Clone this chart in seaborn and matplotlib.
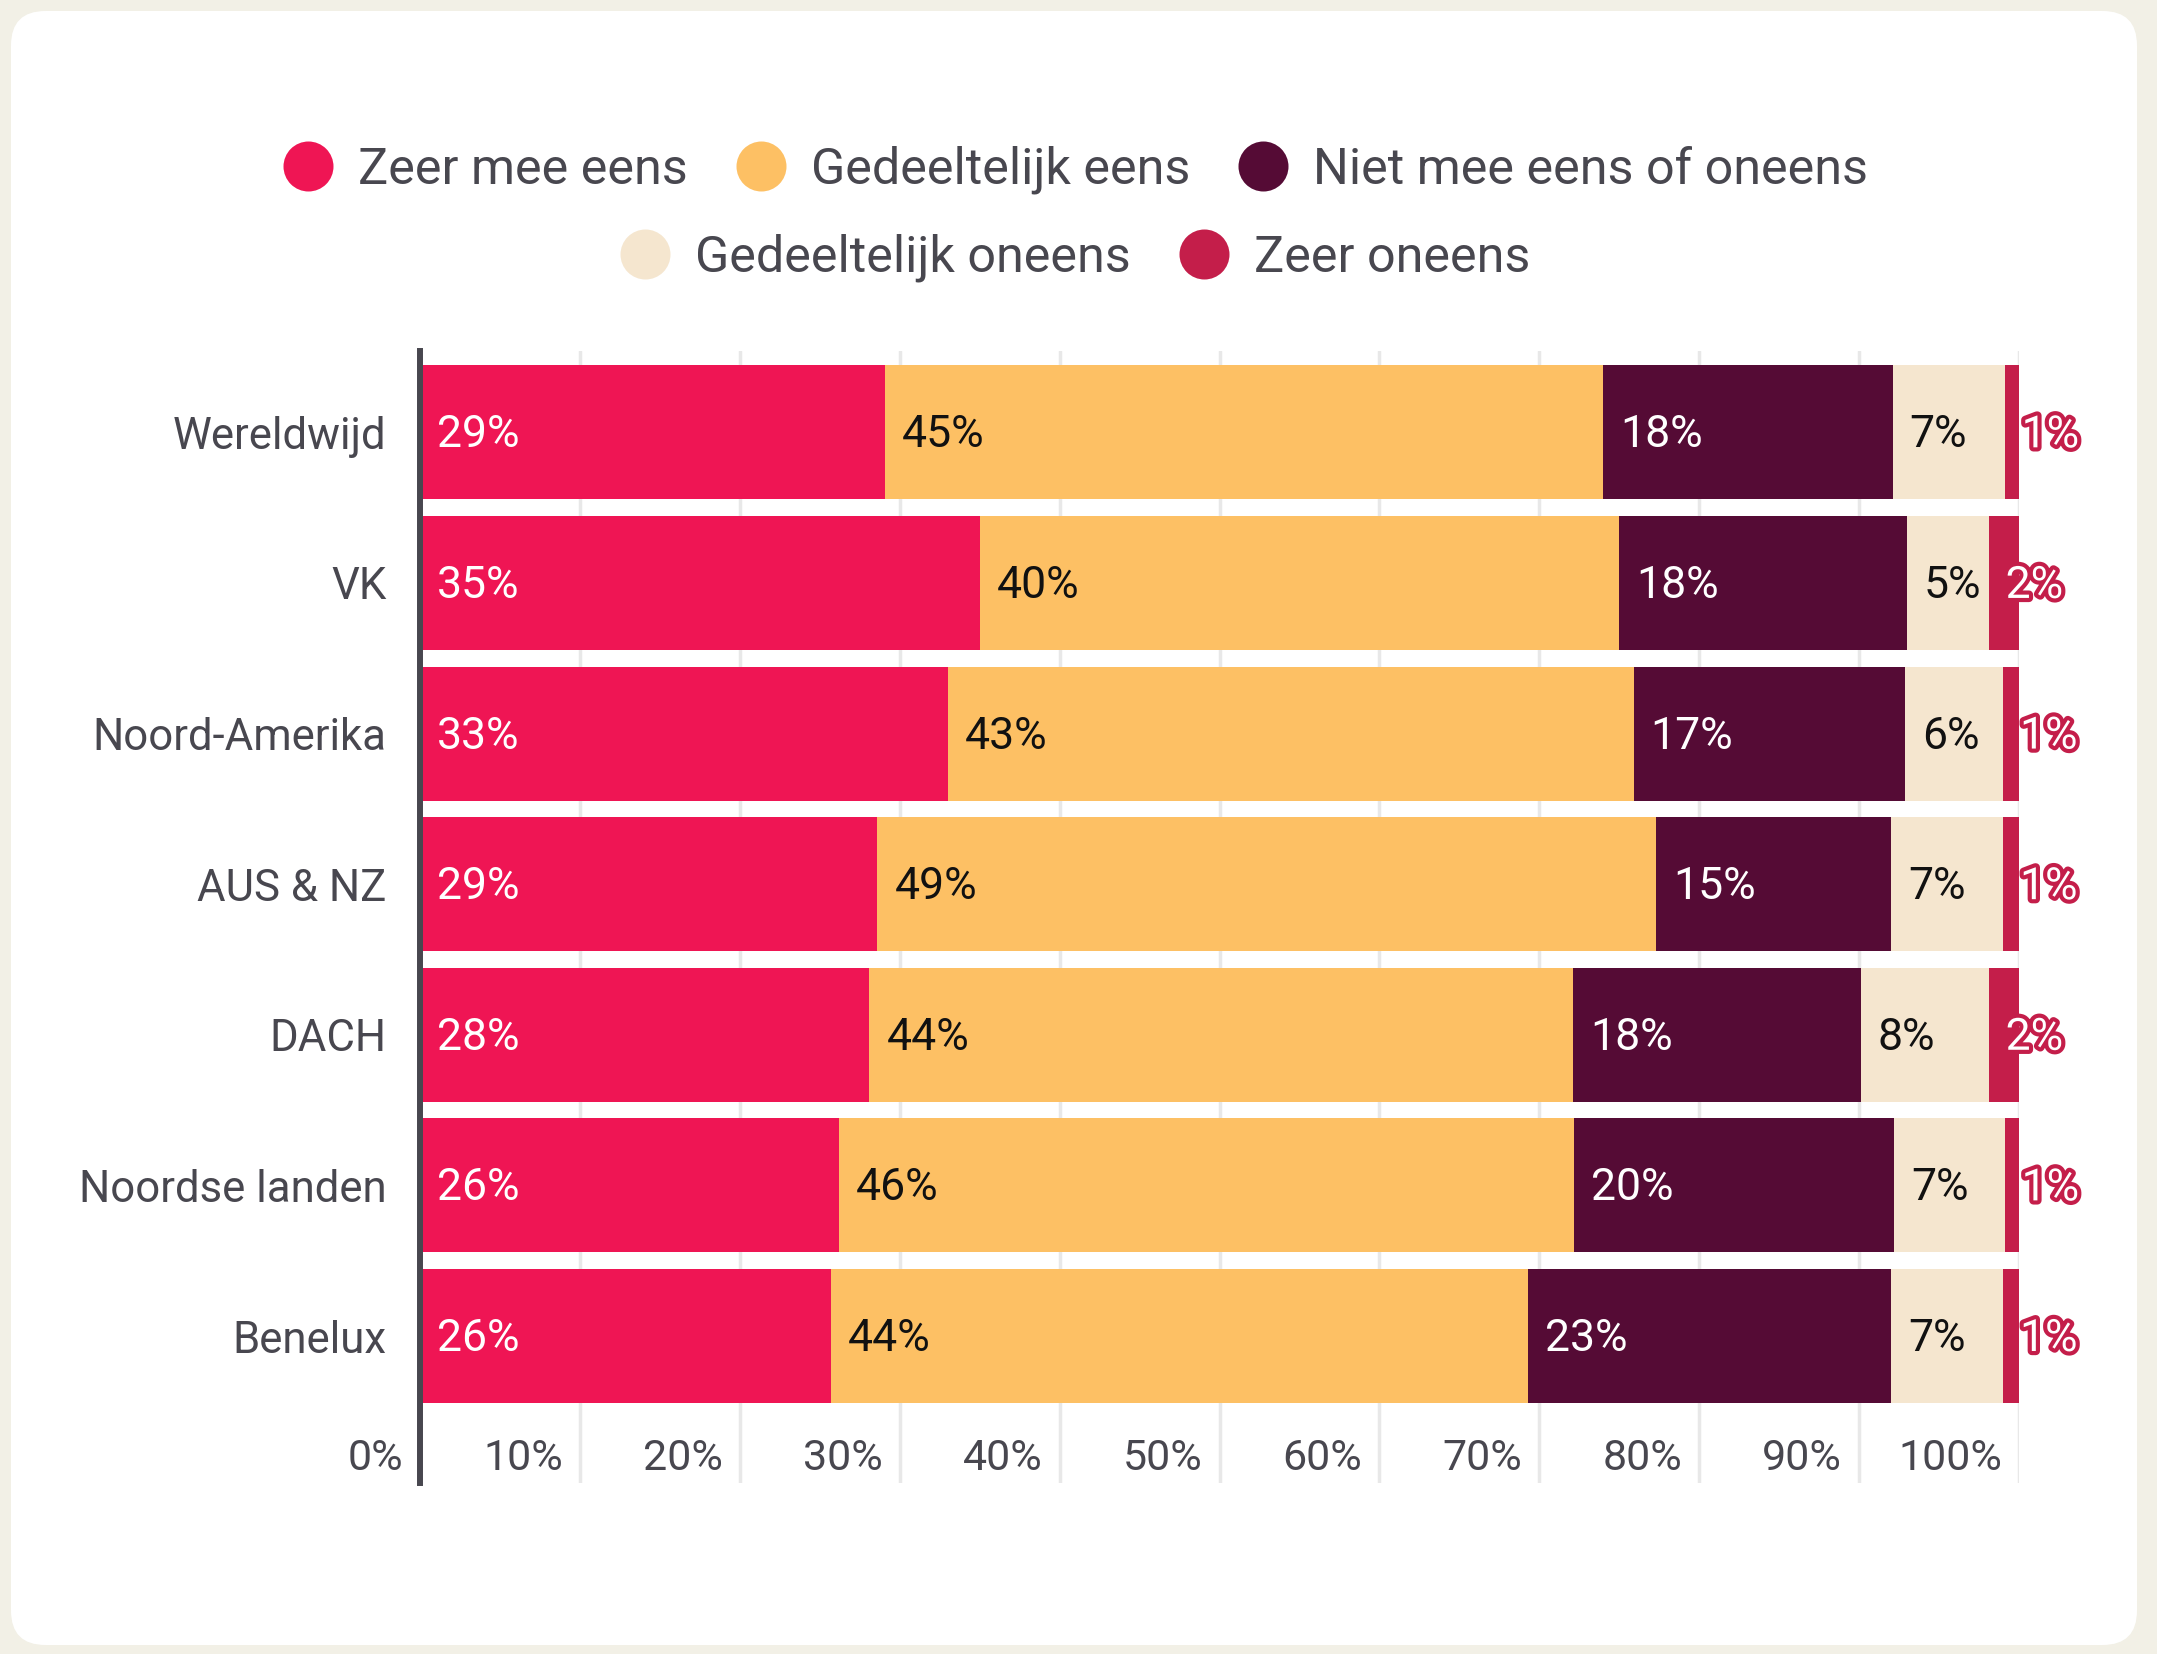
import numpy as np
import pandas as pd
import matplotlib
matplotlib.use("Agg")
import matplotlib.pyplot as plt
import seaborn as sns
from matplotlib.lines import Line2D
from matplotlib.patches import FancyBboxPatch
import matplotlib.transforms as mtransforms
import matplotlib.patheffects as pe

# ---------------- data ----------------
categories = ["Wereldwijd", "VK", "Noord-Amerika", "AUS & NZ", "DACH", "Noordse landen", "Benelux"]
series = ["Zeer mee eens", "Gedeeltelijk eens", "Niet mee eens of oneens", "Gedeeltelijk oneens", "Zeer oneens"]
zeer_mee_eens = [29.1, 35.0, 33.0, 28.6, 28.1, 26.2, 25.7]
gedeeltelijk_eens = [44.9, 40.0, 42.9, 48.7, 44.0, 46.0, 43.6]
niet_mee_eens_of_oneens = [18.1, 18.0, 17.0, 14.7, 18.0, 20.0, 22.7]
gedeeltelijk_oneens = [7.0, 5.1, 6.1, 7.0, 8.0, 6.9, 7.0]
zeer_oneens = [0.9, 1.9, 1.0, 1.0, 1.9, 0.9, 1.0]
xticks = [0, 10, 20, 30, 40, 50, 60, 70, 80, 90, 100]
xtick_labels = [f"{t}%" for t in xticks]

colors = ["#EF1554", "#FDC064", "#550B35", "#F5E6CF", "#C41E4A"]
label_colors = ["white", "#111111", "white", "#111111", "white"]

values = np.array([zeer_mee_eens, gedeeltelijk_eens, niet_mee_eens_of_oneens,
                   gedeeltelijk_oneens, zeer_oneens]).T  # shape (cats, series)
cum = np.cumsum(values, axis=1)

W, H = 2157, 1654
sns.set_style("white")
plt.rcParams["font.family"] = ["Roboto", "DejaVu Sans"]
text_color = "#48474F"

fig = plt.figure(figsize=(W / 100, H / 100), dpi=100)
fig.patch.set_facecolor("#F2F0E6")
card = FancyBboxPatch((11 / W, 9 / H), 2126 / W, 1634 / H,
                      boxstyle="round,pad=0,rounding_size=0.016",
                      transform=fig.transFigure, facecolor="white",
                      edgecolor="none", zorder=-10, mutation_aspect=W / H)
fig.patches.append(card)

ax = fig.add_axes([420 / W, (H - 1483) / H, 1599 / W, 1132 / H])
ax.set_facecolor("none")
ax.set_zorder(2)

# stacked bars via cumulative totals, drawn back to front
for i in reversed(range(len(series))):
    df = pd.DataFrame({"cat": categories, "val": cum[:, i]})
    sns.barplot(data=df, x="val", y="cat", order=categories, orient="h",
                color=colors[i], saturation=1, width=0.89, errorbar=None,
                linewidth=0, edgecolor="none", ax=ax, zorder=2)

ax.set_xlim(0, 100)
ax.set_ylim(6.976, -0.54)

# value labels
off = mtransforms.offset_copy(ax.transData, fig=fig, x=17, y=-3, units="dots")
for j in range(len(categories)):
    for i in range(len(series)):
        start = 0 if i == 0 else cum[j, i - 1]
        lab = f"{round(values[j, i])}%"
        if i == len(series) - 1:
            ax.text(start, j, lab, transform=off, ha="left", va="center",
                    fontsize=32, color="white", zorder=5,
                    path_effects=[pe.withStroke(linewidth=6, foreground=colors[4])])
        else:
            ax.text(start, j, lab, transform=off, ha="left", va="center",
                    fontsize=32, color=label_colors[i], zorder=5)

# grid / spines
ax.set_xticks(xticks)
ax.set_xticklabels([])
ax.tick_params(axis="x", length=0)
ax.xaxis.grid(True, color="#E8E8E8", linewidth=2.5)
ax.yaxis.grid(False)
ax.set_axisbelow(True)
for s in ["top", "right", "bottom"]:
    ax.spines[s].set_visible(False)
ax.spines["left"].set_color(text_color)
ax.spines["left"].set_linewidth(4.3)
ax.spines["left"].set_zorder(6)
ax.set_xlabel("")
ax.set_ylabel("")
ax.tick_params(axis="y", length=0, pad=24, labelsize=31.5, labelcolor=text_color)

blend = mtransforms.blended_transform_factory(ax.transData, ax.transAxes)
tick_tr = mtransforms.offset_copy(blend, fig=fig, x=-17, y=0, units="dots")
for t, lab in zip(xticks, xtick_labels):
    ax.text(t, 0.0215, lab, transform=tick_tr, ha="right", va="center",
            fontsize=31, color=text_color)

# legend in two centred rows
handles = [Line2D([0], [0], marker="o", linestyle="none", markersize=36,
                  markerfacecolor=c, markeredgecolor="none") for c in colors]
leg_kw = dict(frameon=False, fontsize=36.2, handlelength=0.75, handletextpad=0.62,
              columnspacing=1.08, labelcolor=text_color, borderpad=0, borderaxespad=0)
leg1 = fig.legend(handles[:3], series[:3], ncol=3, loc="center",
                  bbox_to_anchor=(0.5, 1 - 170 / H), **leg_kw)
leg2 = fig.legend(handles[3:], series[3:], ncol=2, loc="center",
                  bbox_to_anchor=(0.5, 1 - 258 / H), **leg_kw)

fig.savefig("out.png", dpi=100, facecolor=fig.get_facecolor())
